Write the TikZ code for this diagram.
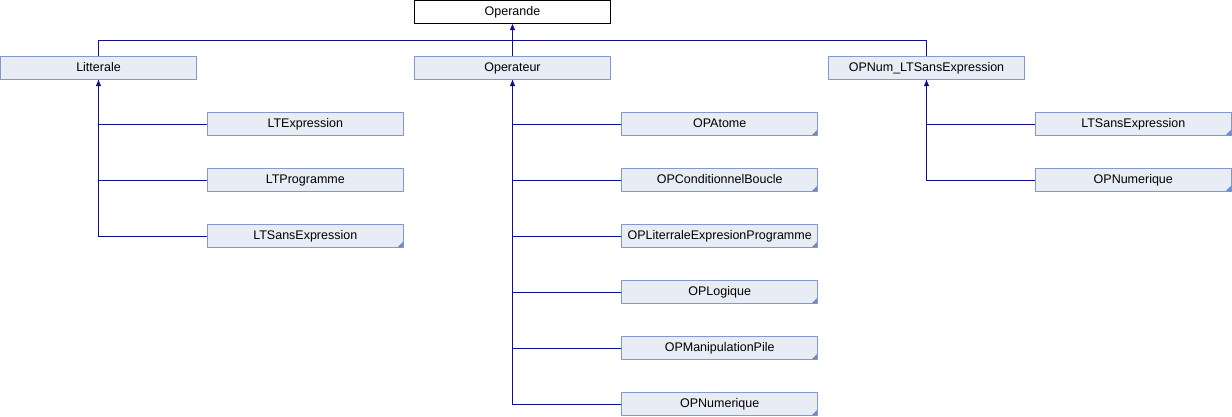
\documentclass[tikz,border=0pt]{standalone}
\usepackage{fontspec}
\setmainfont{Liberation Sans}
\usetikzlibrary{arrows.meta}
\definecolor{boxfill}{RGB}{232,236,245}
\definecolor{boxline}{RGB}{132,152,208}
\definecolor{foldblue}{RGB}{108,136,200}
\definecolor{linkblue}{RGB}{16,16,140}

\begin{document}
\begin{tikzpicture}[x=1pt,y=-1pt,
  cls/.style={draw=boxline, fill=boxfill, line width=1pt, minimum width=196pt, minimum height=23pt,
    inner sep=0pt, text height=9pt, text depth=2.5pt, font=\fontsize{12.5}{14}\selectfont},
  fold/.style={path picture={\fill[foldblue] (path picture bounding box.south east) -- ++(-6pt,0pt) -- ++(6pt,6pt) -- cycle;}},
  conn/.style={draw=linkblue, line width=1pt},
  conna/.style={conn, {Triangle[width=5pt,length=6pt]}-}]
\useasboundingbox (0,0) rectangle (1232,416);

\node[cls, fill=white, draw=black] (a) at (512.5,12) {Operande};

\node[cls] (b) at (98.5,68) {Litterale};
\node[cls] (c) at (512.5,68) {Operateur};
\node[cls] (d) at (926.5,68) {OPNum\_LTSansExpression};
\coordinate (m) at (512.5,40.5);
\path[conna] (a) -- (c);
\path[conn] (b) |- (m) -| (d);

\node[cls] (b1) at (305.3,124) {LTExpression};
\node[cls] (b2) at (305.3,180) {LTProgramme};
\node[cls, fold] (b3) at (305.3,236) {LTSansExpression};
\path[conna] (b) |- (b3);
\path[conn] (b) |- (b1);
\path[conn] (b) |- (b2);

\node[cls, fold] (c1) at (719.7,124) {OPAtome};
\node[cls, fold] (c2) at (719.7,180) {OPConditionnelBoucle};
\node[cls, fold] (c3) at (719.7,236) {OPLiterraleExpresionProgramme};
\node[cls, fold] (c4) at (719.7,292) {OPLogique};
\node[cls, fold] (c5) at (719.7,348) {OPManipulationPile};
\node[cls, fold] (c6) at (719.7,404) {OPNumerique};
\path[conna] (c) |- (c6);
\path[conn] (c) |- (c1);
\path[conn] (c) |- (c2);
\path[conn] (c) |- (c3);
\path[conn] (c) |- (c4);
\path[conn] (c) |- (c5);

\node[cls, fold] (d1) at (1133.3,124) {LTSansExpression};
\node[cls, fold] (d2) at (1133.3,180) {OPNumerique};
\path[conna] (d) |- (d2);
\path[conn] (d) |- (d1);
\end{tikzpicture}
\end{document}
